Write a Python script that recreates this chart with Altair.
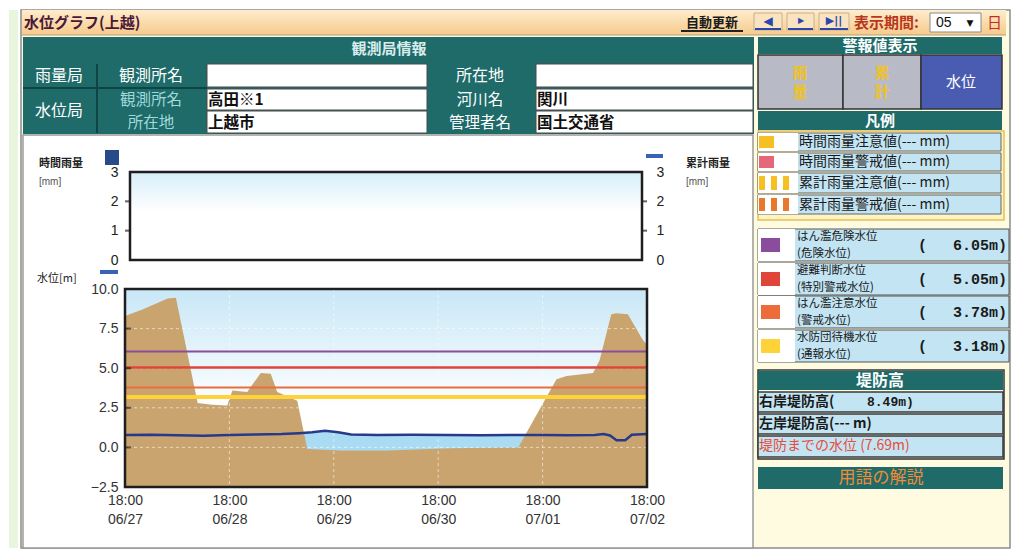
import json
import altair as alt
import pandas as pd

# ---------------- data ----------------
DAY_LABELS = ["06/27", "06/28", "06/29", "06/30", "07/01", "07/02"]
TICK_HOURS = [0, 24, 48, 72, 96, 120]          # hours after 06/27 18:00
TIME_LABEL = "18:00"
LEVEL_TICKS = [-2.5, 0, 2.5, 5, 7.5, 10]

GROUND_HOURS = [0, 4, 9.8, 11.7, 16.7, 20, 23.5, 24.7, 28.1, 31.2, 33.5, 35, 39.6, 41.9,
                50, 60, 75, 90.4, 99.2, 101.5, 107.6, 109.1, 111.8, 112.9, 115.6, 119, 120]
GROUND_M = [8.3, 8.7, 9.4, 9.45, 2.8, 2.7, 2.65, 3.6, 3.5, 4.7, 4.65, 3.5, 2.95, -0.1,
            -0.2, -0.2, -0.05, 0.0, 4.3, 4.5, 4.7, 5.5, 8.4, 8.47, 8.4, 6.8, 6.5]

LEVEL_HOURS = [0, 6, 12, 18, 24, 30, 36, 40, 43, 46, 49, 52, 58, 66, 74, 82, 90, 96,
               102, 108, 110, 111.5, 113, 115, 116.5, 120]
LEVEL_M = [0.78, 0.8, 0.76, 0.74, 0.78, 0.82, 0.85, 0.9, 0.95, 1.05, 0.95, 0.82, 0.78,
           0.8, 0.78, 0.76, 0.78, 0.78, 0.76, 0.78, 0.85, 0.75, 0.45, 0.45, 0.8, 0.85]

THRESH_NAMES = ["はん濫危険水位", "避難判断水位", "はん濫注意水位", "水防団待機水位"]
THRESH_SUB = ["(危険水位)", "(特別警戒水位)", "(警戒水位)", "(通報水位)"]
THRESH_M = [6.05, 5.05, 3.78, 3.18]
THRESH_COLORS = ["#8B4C9C", "#E0453A", "#EC6C3C", "#FFD23A"]
THRESH_WIDTHS = [2, 2.5, 2, 4]

RAIN_HOURS = [0, 24, 48, 72, 96, 120]
RAIN_MM = [0, 0, 0, 0, 0, 0]
RAIN_CUM = [0, 0, 0, 0, 0, 0]
RAIN_TICKS = [0, 1, 2, 3]

RAIN_LEGEND = ["時間雨量注意値(---  mm)", "時間雨量警戒値(---  mm)",
               "累計雨量注意値(---  mm)", "累計雨量警戒値(---  mm)"]
RAIN_LEGEND_COLORS = ["#F6C022", "#E4677A", "#F6C022", "#E8782A"]

LEVEE_RIGHT = "8.49m)"

# ---------------- styles ----------------
JP = "Noto Sans CJK JP"
SANS = "Liberation Sans"
MONO = "Liberation Mono"
SYM = "DejaVu Sans"
TEAL = "#1E6B69"
LBLUE = "#C3E4F3"
W = 522  # plot width (px)

# ---------------- page decoration (page pixel coordinates) ----------------
BASE_RECTS = [
    (8, 8, 1016, 546, "#FFFFFF", "transparent", 0),
    (8, 8, 17, 546, "#EAF5DD", "transparent", 0),
    (20, 8, 1009, 546, "#FFFBE0", "#8C8C8C", 1.5),
]
TITLE_BAR = (21, 8, 1005, 33)

rects = [
    (22, 133, 752, 546, "#FFFFFF", "#9A9A9A", 1.5),
    (22, 35, 753, 132, TEAL, "transparent", 0),
    (206, 62, 426, 85, "#FFFFFF", "#4A4A4A", 1),
    (535, 62, 752, 85, "#FFFFFF", "#4A4A4A", 1),
    (206, 87, 426, 108, "#FFFFFF", "#4A4A4A", 1),
    (535, 87, 752, 108, "#FFFFFF", "#4A4A4A", 1),
    (206, 109, 426, 131, "#FFFFFF", "#4A4A4A", 1),
    (535, 109, 752, 131, "#FFFFFF", "#4A4A4A", 1),
    # title-bar controls
    (753, 11, 781, 28, "#F9E3C0", "#C8B090", 1),
    (786, 11, 813, 28, "#F9E3C0", "#C8B090", 1),
    (818, 11, 848, 28, "#F9E3C0", "#C8B090", 1),
    (929, 11, 980, 30, "#FFFFFF", "#8A8A8A", 1),
    # right panel
    (757, 35, 1001, 52, TEAL, "transparent", 0),
    (757, 53, 842, 107, "#B8BAC6", "#333333", 1.5),
    (842, 53, 920, 107, "#B8BAC6", "#333333", 1.5),
    (920, 53, 1001, 107, "#4A5CB2", "#333333", 1.5),
    (757, 109, 1001, 128, TEAL, "transparent", 0),
    (757, 129, 1003, 218, "#FFF3C4", "#E2C05A", 1.5),
    (757, 368, 1003, 457, "#FFFBE0", "#333333", 1.5),
    (757, 369, 1002, 388, TEAL, "transparent", 0),
    (757, 390, 1002, 410, LBLUE, "#3A3A3A", 1.5),
    (757, 412, 1002, 432, LBLUE, "#3A3A3A", 1.5),
    (757, 434, 1002, 455, LBLUE, "#3A3A3A", 1.5),
    (757, 465, 1002, 487, TEAL, "transparent", 0),
    # chart legend markers
    (104, 148, 118, 163, "#284A8A", "transparent", 0),
    (99, 268, 117, 272, "#3A62B6", "transparent", 0),
    (645, 152, 662, 156, "#3A62B6", "transparent", 0),
]
RAIN_ROWS = [(131, 149), (151, 169), (171, 191), (193, 212)]
for i, (y0, y1) in enumerate(RAIN_ROWS):
    rects.append((757, y0, 1000, y1, LBLUE, "#666666", 1))
    rects.append((757, y0, 797, y1, "#FFFFFF", "transparent", 0))
    c = RAIN_LEGEND_COLORS[i]
    if i < 2:
        rects.append((758, y0 + 3, 773, y1 - 3, c, "transparent", 0))
    else:
        for bx in (758, 770, 782):
            rects.append((bx, y0 + 3, bx + 6, y1 - 3, c, "transparent", 0))
WATER_ROWS = [(227, 259), (261, 293), (294, 326), (328, 360)]
for i, (y0, y1) in enumerate(WATER_ROWS):
    cy = (y0 + y1) / 2
    rects.append((757, y0, 1008, y1, LBLUE, "#555555", 1))
    rects.append((757, y0, 794, y1, "#FFFFFF", "transparent", 0))
    rects.append((760, cy - 7, 779, cy + 7, THRESH_COLORS[i], "transparent", 0))

RULES = [
    (96, 62, 96, 131, "#0E4544", 2),
    (22, 86, 206, 86, "#0E4544", 2),
    (21, 33, 1005, 33, "#B89A78", 1),
    (680, 29, 742, 29, "#222222", 2),
    (754, 27, 780, 27, "#2848B0", 2),
    (787, 27, 812, 27, "#2848B0", 2),
    (819, 27, 847, 27, "#2848B0", 2),
]

HR1, HR2, HR3 = 73.5, 97.5, 120.5   # header row centres
texts = [
    # x, y, text, size, color, align, weight, font
    (23, 21, "水位グラフ(上越)", 15, "#4A1838", "left", "bold", JP),
    (711, 21, "自動更新", 13, "#1A1A1A", "center", "bold", JP),
    (767, 19, "◀", 12, "#2848B0", "center", "normal", SYM),
    (800, 19, "▶", 8, "#2848B0", "center", "normal", SYM),
    (833, 19, "▶||", 11, "#2848B0", "center", "bold", SYM),
    (853, 21, "表示期間:", 15, "#B8361C", "left", "bold", JP),
    (935, 21, "05", 14, "#111111", "left", "normal", SANS),
    (969, 21, "▼", 9, "#111111", "center", "normal", SYM),
    (986, 21, "日", 15, "#C0301E", "left", "normal", JP),
    (388, 47, "観測局情報", 15, "#D9ECEC", "center", "bold", JP),
    (58, HR1, "雨量局", 16, "#FFFFFF", "center", "normal", JP),
    (58, 109, "水位局", 16, "#FFFFFF", "center", "normal", JP),
    (150, HR1, "観測所名", 16, "#FFFFFF", "center", "normal", JP),
    (150, HR2, "観測所名", 15.5, "#9FD9DA", "center", "normal", JP),
    (150, HR3, "所在地", 15.5, "#9FD9DA", "center", "normal", JP),
    (479, HR1, "所在地", 16, "#FFFFFF", "center", "normal", JP),
    (479, HR2, "河川名", 15.5, "#FFFFFF", "center", "normal", JP),
    (479, HR3, "管理者名", 15.5, "#FFFFFF", "center", "normal", JP),
    (207, HR2, "高田※1", 15.5, "#111111", "left", "bold", JP),
    (207, HR3, "上越市", 15.5, "#111111", "left", "bold", JP),
    (536, HR2, "関川", 15.5, "#111111", "left", "bold", JP),
    (536, HR3, "国土交通省", 15.5, "#111111", "left", "bold", JP),
    (879, 44, "警報値表示", 15, "#FFFFFF", "center", "bold", JP),
    (799, 71, "雨", 15, "#F2C21E", "center", "bold", JP),
    (799, 90, "量", 15, "#F2C21E", "center", "bold", JP),
    (881, 71, "累", 15, "#F2C21E", "center", "bold", JP),
    (881, 90, "計", 15, "#F2C21E", "center", "bold", JP),
    (960, 80, "水位", 15, "#FFFFFF", "center", "normal", JP),
    (879, 119, "凡例", 15, "#FFFFFF", "center", "bold", JP),
    (879, 379, "堤防高", 16, "#FFFFFF", "center", "bold", JP),
    (758, 400, "右岸堤防高(", 14, "#1A1A1A", "left", "bold", JP),
    (866, 400, LEVEE_RIGHT, 13, "#1A1A1A", "left", "bold", MONO),
    (758, 422, "左岸堤防高(--- m)", 14, "#1A1A1A", "left", "bold", JP),
    (758, 444, "堤防までの水位 (7.69m)", 14, "#E84C3A", "left", "normal", JP),
    (880, 476, "用語の解説", 17, "#F28A36", "center", "normal", JP),
    (38, 162, "時間雨量", 11, "#222222", "left", "bold", JP),
    (38, 180, "[mm]", 10, "#555555", "left", "normal", SANS),
    (685, 162, "累計雨量", 11, "#222222", "left", "bold", JP),
    (685, 180, "[mm]", 10, "#555555", "left", "normal", SANS),
    (36, 277, "水位[m]", 11, "#222222", "left", "normal", JP),
]
for i, (y0, y1) in enumerate(RAIN_ROWS):
    texts.append((798, (y0 + y1) / 2, RAIN_LEGEND[i], 14, "#1A1A1A", "left", "normal", JP))
for i, (y0, y1) in enumerate(WATER_ROWS):
    cy = (y0 + y1) / 2
    texts.append((796, cy - 8.5, THRESH_NAMES[i], 11.5, "#1A1A1A", "left", "normal", JP))
    texts.append((796, cy + 8.5, THRESH_SUB[i], 11.5, "#1A1A1A", "left", "normal", JP))
    texts.append((917, cy, "(", 15, "#1A1A1A", "left", "bold", MONO))
    texts.append((1006, cy, f"{THRESH_M[i]:.2f}m)", 15, "#1A1A1A", "right", "bold", MONO))

# ---------------- decoration chart ----------------
DX = alt.Scale(domain=[124, 646], nice=False, zero=False)
DY = alt.Scale(domain=[8, 141], nice=False, zero=False, reverse=True)


def rect_layer(rows):
    df = pd.DataFrame(rows, columns=["x0", "y0", "x1", "y1", "fill", "stroke", "sw"])
    return alt.Chart(df).mark_rect().encode(
        x=alt.X("x0:Q", scale=DX, axis=None), x2="x1:Q",
        y=alt.Y("y0:Q", scale=DY, axis=None), y2="y1:Q",
        color=alt.Color("fill:N", scale=None),
        stroke=alt.Stroke("stroke:N", scale=None),
        strokeWidth=alt.StrokeWidth("sw:Q", scale=None),
    )


base_layer = rect_layer(BASE_RECTS)
title_df = pd.DataFrame([TITLE_BAR], columns=["x0", "y0", "x1", "y1"])
title_layer = alt.Chart(title_df).mark_rect(
    fill={"gradient": "linear", "x1": 0, "y1": 0, "x2": 0, "y2": 1,
          "stops": [{"offset": 0, "color": "#FEEDCC"}, {"offset": 1, "color": "#F6CA8C"}]}
).encode(x=alt.X("x0:Q", scale=DX, axis=None), x2="x1:Q",
         y=alt.Y("y0:Q", scale=DY, axis=None), y2="y1:Q")
panel_layer = rect_layer(rects)
rules_df = pd.DataFrame(RULES, columns=["x0", "y0", "x1", "y1", "col", "sw"])
rule_layer = alt.Chart(rules_df).mark_rule().encode(
    x=alt.X("x0:Q", scale=DX, axis=None), x2="x1:Q",
    y=alt.Y("y0:Q", scale=DY, axis=None), y2="y1:Q",
    color=alt.Color("col:N", scale=None),
    strokeWidth=alt.StrokeWidth("sw:Q", scale=None),
)
tdf = pd.DataFrame(texts, columns=["x", "y", "label", "fs", "col", "align", "weight", "font"])
text_layers = []
for (al, wt, ft), g in tdf.groupby(["align", "weight", "font"]):
    text_layers.append(
        alt.Chart(g.reset_index(drop=True)).mark_text(
            align=al, baseline="middle", fontWeight=wt, font=ft
        ).encode(
            x=alt.X("x:Q", scale=DX, axis=None),
            y=alt.Y("y:Q", scale=DY, axis=None),
            text="label:N",
            color=alt.Color("col:N", scale=None),
            size=alt.Size("fs:Q", scale=None),
        )
    )

deco = alt.layer(base_layer, title_layer, panel_layer, rule_layer, *text_layers).properties(
    width=W, height=133
)

# ---------------- shared time axis ----------------
XS = alt.Scale(domain=[0, 120], nice=False, zero=False)
label_expr = "['" + TIME_LABEL + "', " + json.dumps(DAY_LABELS) + "[round(datum.value / 24)]]"
X_AXIS = alt.Axis(values=TICK_HOURS, labelExpr=label_expr, title=None, grid=False,
                  ticks=False, domain=False, labelFont=SANS, labelFontSize=14,
                  labelColor="#333333", labelPadding=6, labelLineHeight=19,
                  labelFlush=False, labelOverlap=False)

# ---------------- rain chart ----------------
RYS = alt.Scale(domain=[0, 3], nice=False, zero=False)
R_AX_L = alt.Axis(values=RAIN_TICKS, format="d", title=None, grid=False, ticks=False,
                  domain=False, labelFont=SANS, labelFontSize=14, labelColor="#222222",
                  labelPadding=7, orient="left")
R_AX_R = alt.Axis(values=RAIN_TICKS, format="d", title=None, grid=False, ticks=False,
                  domain=False, labelFont=SANS, labelFontSize=14, labelColor="#222222",
                  labelPadding=9, orient="right")
one = pd.DataFrame({"k": [0]})
rain_df = pd.DataFrame({"h": RAIN_HOURS, "mm": RAIN_MM, "cum": RAIN_CUM})
rtick_df = pd.DataFrame({"v": RAIN_TICKS[1:3]})

r_bg = alt.Chart(one).mark_rect(
    fill={"gradient": "linear", "x1": 0, "y1": 0, "x2": 0, "y2": 1,
          "stops": [{"offset": 0, "color": "#D6EFFA"}, {"offset": 0.45, "color": "#FFFFFF"},
                    {"offset": 1, "color": "#FFFFFF"}]}
).encode(x=alt.X(datum=0, scale=XS, axis=None), x2=alt.X2(datum=120),
         y=alt.Y(datum=3, scale=RYS, axis=None), y2=alt.Y2(datum=0))
r_bars = alt.Chart(rain_df).mark_bar(color="#284A8A", size=3).encode(
    x=alt.X("h:Q", scale=XS, axis=None), y=alt.Y("mm:Q", scale=RYS, axis=R_AX_L))
r_cum = alt.Chart(rain_df).mark_line(color="#3A62B6", opacity=0).encode(
    x=alt.X("h:Q", scale=XS, axis=None), y=alt.Y("cum:Q", scale=RYS, axis=R_AX_R))
r_tl = alt.Chart(rtick_df).mark_tick(orient="horizontal", size=6, thickness=2, color="#222222").encode(
    y=alt.Y("v:Q", scale=RYS, axis=None), x=alt.value(3))
r_tr = alt.Chart(rtick_df).mark_tick(orient="horizontal", size=6, thickness=2, color="#222222").encode(
    y=alt.Y("v:Q", scale=RYS, axis=None), x=alt.value(W - 3))
r_frame = alt.Chart(one).mark_rect(filled=False, stroke="#1E1E1E", strokeWidth=2.5).encode(
    x=alt.X(datum=0, scale=XS, axis=None), x2=alt.X2(datum=120),
    y=alt.Y(datum=3, scale=RYS, axis=None), y2=alt.Y2(datum=0))
rain = alt.layer(r_bg, r_bars, r_cum, r_tl, r_tr, r_frame).resolve_axis(
    y="independent").properties(width=W, height=88)

# ---------------- water level chart ----------------
WYS = alt.Scale(domain=[-2.5, 10], nice=False, zero=False)
Y_AXIS = alt.Axis(values=LEVEL_TICKS, format=".1f", title=None, grid=False,
                  ticks=False, domain=False, labelFont=SANS, labelFontSize=14,
                  labelColor="#333333", labelPadding=7)
ground_df = pd.DataFrame({"h": GROUND_HOURS, "m": GROUND_M})
level_df = pd.DataFrame({"h": LEVEL_HOURS, "m": LEVEL_M})
thr_df = pd.DataFrame({"name": THRESH_NAMES, "m": THRESH_M, "c": THRESH_COLORS, "w": THRESH_WIDTHS})
hgrid_df = pd.DataFrame({"v": LEVEL_TICKS[1:-1]})
vgrid_df = pd.DataFrame({"h": TICK_HOURS[1:-1]})

WX = alt.X("h:Q", scale=XS, axis=X_AXIS)
WY = alt.Y("m:Q", scale=WYS, axis=Y_AXIS)

w_bg = alt.Chart(one).mark_rect(
    fill={"gradient": "linear", "x1": 0, "y1": 0, "x2": 0, "y2": 1,
          "stops": [{"offset": 0, "color": "#C8E7F6"}, {"offset": 0.6, "color": "#FFFFFF"},
                    {"offset": 1, "color": "#FFFFFF"}]}
).encode(x=alt.X(datum=0, scale=XS, axis=X_AXIS), x2=alt.X2(datum=120),
         y=alt.Y(datum=10, scale=WYS, axis=Y_AXIS), y2=alt.Y2(datum=-2.5))
w_fill = alt.Chart(level_df).mark_area(color="#A9DCF3").encode(
    x=WX, y=WY, y2=alt.Y2(datum=-2.5))
w_ground = alt.Chart(ground_df).mark_area(color="#C9A46F").encode(
    x=WX, y=WY, y2=alt.Y2(datum=-2.5))
w_hgrid = alt.Chart(hgrid_df).mark_rule(color="#FFFFFF", opacity=0.55, strokeDash=[3, 3]).encode(
    y=alt.Y("v:Q", scale=WYS, axis=Y_AXIS))
w_vgrid = alt.Chart(vgrid_df).mark_rule(color="#FFFFFF", opacity=0.55, strokeDash=[3, 3]).encode(
    x=WX)
w_thr = alt.Chart(thr_df).mark_rule().encode(
    y=WY,
    color=alt.Color("c:N", scale=None),
    strokeWidth=alt.StrokeWidth("w:Q", scale=None))
w_line = alt.Chart(level_df).mark_line(color="#28398C", strokeWidth=2.5).encode(x=WX, y=WY)
w_ticks = alt.Chart(hgrid_df).mark_tick(orient="horizontal", size=6, thickness=2, color="#222222").encode(
    y=alt.Y("v:Q", scale=WYS, axis=Y_AXIS), x=alt.value(3))
w_frame = alt.Chart(one).mark_rect(filled=False, stroke="#1E1E1E", strokeWidth=2.5).encode(
    x=alt.X(datum=0, scale=XS, axis=X_AXIS), x2=alt.X2(datum=120),
    y=alt.Y(datum=10, scale=WYS, axis=Y_AXIS), y2=alt.Y2(datum=-2.5))
water = alt.layer(w_bg, w_fill, w_ground, w_hgrid, w_vgrid, w_thr, w_line, w_ticks,
                  w_frame).properties(width=W, height=198)

chart = alt.vconcat(deco, rain, water, spacing=29, bounds="flush", padding=0).resolve_scale(
    x="independent", y="independent").configure_view(stroke="transparent")

chart.save("out.html", embed_options={"renderer": "svg", "actions": False})
